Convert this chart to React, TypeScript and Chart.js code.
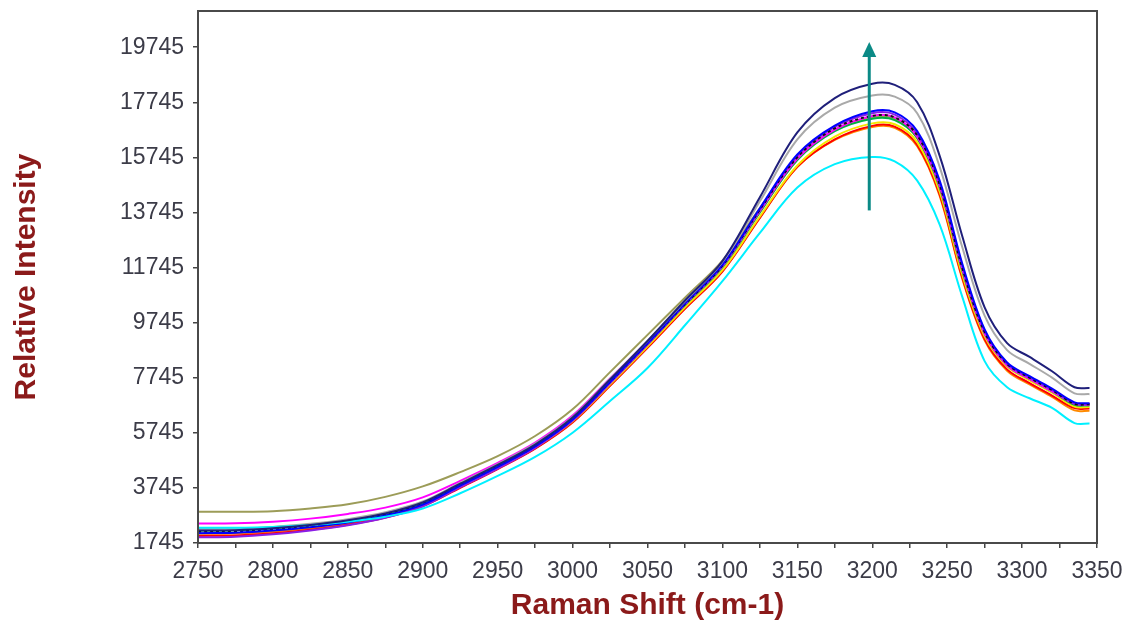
import React, { useEffect, useRef } from "react";
import { Chart, registerables } from "chart.js";

Chart.register(...registerables);

const wavenumbers = [2750, 2775, 2800, 2825, 2850, 2875, 2900, 2925, 2950, 2975, 3000, 3025, 3050, 3075, 3100, 3125, 3150, 3175, 3200, 3215, 3230, 3245, 3260, 3275, 3290, 3305, 3320, 3335, 3345];

const navySeries = [2200, 2210, 2280, 2400, 2570, 2820, 3220, 3900, 4580, 5320, 6300, 7680, 9080, 10550, 11980, 14300, 16650, 17900, 18420, 18380, 17750, 15800, 12900, 10300, 9000, 8500, 7980, 7400, 7370];
const graySeries = [2250, 2260, 2330, 2440, 2610, 2860, 3250, 3930, 4610, 5350, 6330, 7700, 9080, 10520, 11950, 14150, 16400, 17550, 17990, 17950, 17350, 15400, 12500, 10000, 8750, 8250, 7750, 7180, 7150];
const blueSeries = [2100, 2120, 2200, 2320, 2490, 2740, 3140, 3830, 4510, 5250, 6230, 7600, 9000, 10450, 11850, 13900, 15850, 16900, 17420, 17380, 16700, 14900, 11900, 9500, 8300, 7800, 7350, 6850, 6820];
const violetSeries = [1950, 1970, 2060, 2200, 2390, 2660, 3080, 3770, 4450, 5200, 6180, 7540, 8950, 10400, 11800, 13850, 15800, 16850, 17350, 17300, 16600, 14800, 11800, 9450, 8250, 7750, 7300, 6800, 6780];
const blackSeries = [2150, 2160, 2240, 2360, 2530, 2780, 3180, 3850, 4530, 5270, 6250, 7600, 9000, 10420, 11820, 13850, 15750, 16800, 17250, 17200, 16550, 14750, 11750, 9400, 8250, 7750, 7300, 6800, 6780];
const magentaSeries = [2450, 2460, 2520, 2630, 2800, 3030, 3400, 4000, 4650, 5390, 6370, 7720, 9060, 10450, 11800, 13800, 15700, 16750, 17250, 17200, 16500, 14700, 11700, 9350, 8200, 7700, 7250, 6800, 6760];
const greenSeries = [2200, 2210, 2280, 2390, 2560, 2800, 3190, 3850, 4520, 5250, 6210, 7560, 8960, 10380, 11760, 13750, 15650, 16700, 17150, 17100, 16450, 14650, 11650, 9350, 8200, 7700, 7250, 6760, 6740];
const yellowSeries = [2250, 2260, 2320, 2420, 2580, 2810, 3190, 3830, 4490, 5220, 6170, 7500, 8880, 10300, 11650, 13600, 15450, 16500, 16980, 16950, 16300, 14500, 11500, 9250, 8150, 7650, 7200, 6700, 6680];
const redSeries = [2000, 2020, 2100, 2230, 2410, 2670, 3080, 3750, 4430, 5170, 6120, 7450, 8830, 10250, 11600, 13550, 15400, 16400, 16890, 16860, 16200, 14400, 11400, 9150, 8050, 7550, 7100, 6640, 6630];
const orangeSeries = [2080, 2090, 2160, 2280, 2450, 2700, 3110, 3770, 4450, 5180, 6140, 7470, 8850, 10270, 11620, 13560, 15400, 16380, 16850, 16820, 16150, 14350, 11350, 9100, 8000, 7500, 7050, 6560, 6550];
const cyanSeries = [2300, 2300, 2330, 2400, 2520, 2700, 3000, 3550, 4180, 4870, 5750, 6900, 8100, 9650, 11250, 13000, 14650, 15500, 15760, 15600, 14900, 13300, 10700, 8350, 7400, 7000, 6650, 6100, 6080];
const oliveSeries = [2880, 2880, 2900, 3000, 3150, 3420, 3800, 4320, 4900, 5630, 6600, 7950, 9300, 10650, 12000, 13900, 15750, 16750, 17200, 17150, 16450, 14650, 11650, 9350, 8200, 7700, 7250, 6800, 6780];

const yTickValues = [1745, 3745, 5745, 7745, 9745, 11745, 13745, 15745, 17745, 19745];
const xMin = 2750;
const xMax = 3350;
const yMin = 1745;
const yMax = 21060;

const arrowX = [3198];
const arrowFromTo = [13820, 19930];

const seriesList = [
  { name: "navy", data: navySeries, color: "#1f1f7a", dash: [] as number[] },
  { name: "cyan", data: cyanSeries, color: "#00f0ff", dash: [] as number[] },
  { name: "gray", data: graySeries, color: "#a9a9a9", dash: [] as number[] },
  { name: "blue", data: blueSeries, color: "#0000ff", dash: [] as number[] },
  { name: "black", data: blackSeries, color: "#111111", dash: [3, 3] },
  { name: "violet", data: violetSeries, color: "#8a1ee6", dash: [] as number[] },
  { name: "magenta", data: magentaSeries, color: "#ff00ff", dash: [] as number[] },
  { name: "green", data: greenSeries, color: "#00b040", dash: [] as number[] },
  { name: "yellow", data: yellowSeries, color: "#f5e600", dash: [] as number[] },
  { name: "red", data: redSeries, color: "#ff0000", dash: [] as number[] },
  { name: "orange", data: orangeSeries, color: "#ff8a00", dash: [] as number[] },
  { name: "olive", data: oliveSeries, color: "#9c9c58", dash: [] as number[] },
];

const FONT = 'Arial, "Liberation Sans", sans-serif';

const frameAndArrow = {
  id: "frameAndArrow",
  afterDatasetsDraw(chart: any) {
    const { ctx, chartArea, scales } = chart;
    ctx.save();
    ctx.strokeStyle = "#4a4a4a";
    ctx.lineWidth = 2;
    ctx.strokeRect(chartArea.left, chartArea.top, chartArea.right - chartArea.left, chartArea.bottom - chartArea.top);
    const x = scales.x.getPixelForValue(arrowX[0]);
    const y0 = scales.y.getPixelForValue(arrowFromTo[0]);
    const y1 = scales.y.getPixelForValue(arrowFromTo[1]);
    const headH = 15;
    const headW = 7;
    ctx.strokeStyle = "#0b8a86";
    ctx.fillStyle = "#0b8a86";
    ctx.lineWidth = 3;
    ctx.beginPath();
    ctx.moveTo(x, y0);
    ctx.lineTo(x, y1 + headH - 2);
    ctx.stroke();
    ctx.beginPath();
    ctx.moveTo(x, y1);
    ctx.lineTo(x - headW, y1 + headH);
    ctx.lineTo(x + headW, y1 + headH);
    ctx.closePath();
    ctx.fill();
    ctx.restore();
  },
};

export default function App() {
  const canvasRef = useRef<HTMLCanvasElement | null>(null);

  useEffect(() => {
    if (!canvasRef.current) return;
    const datasets = seriesList.map((s) => ({
      label: s.name,
      data: wavenumbers.map((w, i) => ({ x: w, y: s.data[i] })),
      borderColor: s.color,
      backgroundColor: s.color,
      borderWidth: 2,
      borderDash: s.dash,
      pointRadius: 0,
      tension: 0.35,
      fill: false,
    }));

    const chart = new Chart(canvasRef.current, {
      type: "line",
      data: { datasets },
      options: {
        animation: false,
        responsive: false,
        maintainAspectRatio: false,
        layout: { padding: { left: 0, top: 11, right: 28, bottom: 0 } },
        plugins: { legend: { display: false }, tooltip: { enabled: false } },
        scales: {
          x: {
            type: "linear",
            min: xMin,
            max: xMax,
            afterFit: (scale: any) => {
              scale.height = 79;
              scale.paddingLeft = 0;
              scale.paddingRight = 0;
            },
            afterBuildTicks: (scale: any) => {
              const t = [];
              for (let v = xMin; v <= xMax; v += 25) t.push({ value: v });
              scale.ticks = t;
            },
            ticks: {
              autoSkip: false,
              maxRotation: 0,
              padding: 10,
              color: "#3c3c48",
              font: { family: FONT, size: 23 },
              callback: (v: any) => (Number(v) % 50 === 0 ? String(v) : ""),
            },
            grid: { drawOnChartArea: false, drawTicks: true, tickLength: 5, tickColor: "#444", lineWidth: 1.5 },
            border: { display: true, color: "#4a4a4a", width: 2 },
            title: {
              display: true,
              text: "Raman Shift (cm-1)",
              color: "#8b1a1a",
              font: { family: FONT, size: 30, weight: "bold" },
              padding: { top: 0, bottom: -2 },
            },
          },
          y: {
            type: "linear",
            min: yMin,
            max: yMax,
            afterFit: (scale: any) => {
              scale.width = 198;
              scale.paddingTop = 0;
              scale.paddingBottom = 0;
            },
            afterBuildTicks: (scale: any) => {
              scale.ticks = yTickValues.map((v) => ({ value: v }));
            },
            ticks: {
              padding: 9,
              color: "#3c3c48",
              font: { family: FONT, size: 23 },
              callback: (v: any) => String(v),
            },
            grid: { drawOnChartArea: false, drawTicks: true, tickLength: 5, tickColor: "#444", lineWidth: 1.5 },
            border: { display: true, color: "#4a4a4a", width: 2 },
            title: {
              display: true,
              text: "Relative Intensity",
              color: "#8b1a1a",
              font: { family: FONT, size: 30, weight: "bold" },
              padding: { top: 9, bottom: 0 },
            },
          },
        },
      },
      plugins: [frameAndArrow],
    });
    return () => chart.destroy();
  }, []);

  return (
    <div style={{ position: "fixed", left: 0, top: 0, width: 1125, height: 622, background: "#fff" }}>
      <canvas ref={canvasRef} width={1125} height={622} />
    </div>
  );
}
